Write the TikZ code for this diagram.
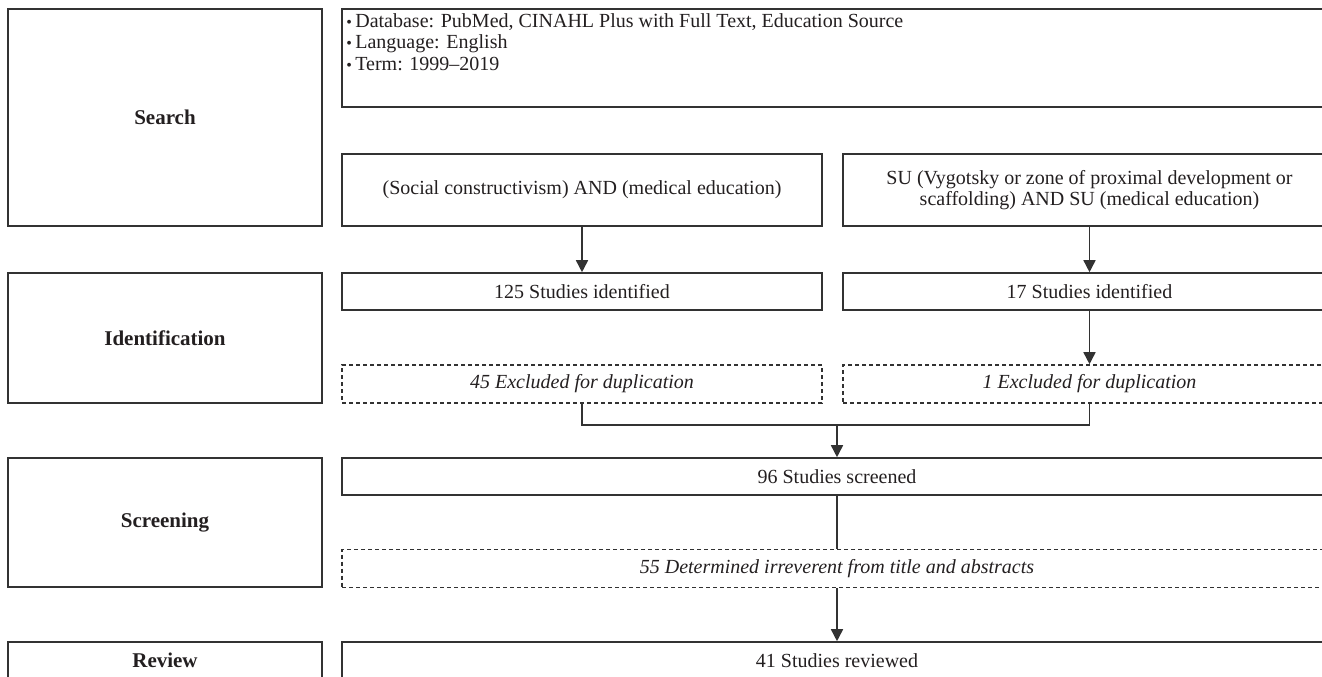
\documentclass[tikz,border=0pt]{standalone}
\usepackage{fontspec}
\setmainfont{Liberation Serif}
\usepackage{xcolor}
\usepackage{tikz}
\usetikzlibrary{arrows.meta}

\definecolor{linegray}{RGB}{50,50,50}
\definecolor{textdark}{RGB}{35,31,32}

\begin{document}
\begin{tikzpicture}[
        x=0.5pt, y=-0.5pt,
        font=\fontsize{10}{10.75}\selectfont,
        text=textdark,
        box/.style={rectangle, draw=linegray, line width=0.8pt, inner sep=0pt, align=center},
        stage/.style={box, minimum width=157pt, font=\fontsize{10.5}{12}\selectfont\bfseries},
        query/.style={box, minimum height=36pt},
        result/.style={box, minimum height=18.5pt},
        excluded/.style={box, minimum height=19pt, dash pattern=on 2pt off 1.5pt, font=\fontsize{10}{10.75}\selectfont\itshape},
        link/.style={draw=linegray, line width=0.8pt},
        arrow/.style={link, -{Triangle[length=6pt, width=6pt]}}
    ]
        \useasboundingbox (0,0) rectangle (1322,676);

        % Stages
        \node[stage, minimum height=108.5pt] (search) at (165,117.5) {Search};
        \node[stage, minimum height=65pt] (ident) at (165,338) {Identification};
        \node[stage, minimum height=64.5pt] (screen) at (165,522.5) {Screening};
        \node[stage, minimum height=18.5pt] (review) at (165,660.5) {Review};

        % Search
        \node[box, minimum width=495pt, minimum height=49pt] (info) at (837,58) {};
        \node[anchor=north west, align=left, inner sep=0pt] (infotext) at (346,13)
            {{\footnotesize\textbullet}\,Database: PubMed, CINAHL Plus with Full Text, Education Source\\
             {\footnotesize\textbullet}\,Language: English\\
             {\footnotesize\textbullet}\,Term: 1999--2019};
        \node[query, minimum width=240pt] (social) at (582,190) {(Social constructivism) AND (medical education)};
        \node[query, minimum width=246.5pt] (vygotsky) at (1089.5,190)
            {SU (Vygotsky or zone of proximal development or\\ scaffolding) AND SU (medical education)};

        % Identification
        \node[result, minimum width=240pt] (found125) at (582,291.5) {125 Studies identified};
        \node[result, minimum width=246.5pt] (found17) at (1089.5,291.5) {17 Studies identified};
        \node[excluded, minimum width=240pt] (dup45) at (582,384) {45 Excluded for duplication};
        \node[excluded, minimum width=246.5pt] (dup1) at (1089.5,384) {1 Excluded for duplication};

        % Screening and review
        \node[result, minimum width=495pt] (screened) at (837,476.5) {96 Studies screened};
        \node[excluded, minimum width=495pt] (irrel) at (837,568.5) {55 Determined irreverent from title and abstracts};
        \node[result, minimum width=495pt] (reviewed) at (837,660.5) {41 Studies reviewed};

        % Links
        \coordinate (merge) at (837,425);
        \draw[arrow] (social) -- (found125);
        \draw[arrow] (vygotsky) -- (found17);
        \draw[arrow] (found17) -- (dup1);
        \draw[link] (dup45.south) |- (merge) -| (dup1.south);
        \draw[arrow] (merge) -- (screened);
        \draw[link] (screened) -- (irrel);
        \draw[arrow] (irrel) -- (reviewed);

    \end{tikzpicture}
\end{document}
